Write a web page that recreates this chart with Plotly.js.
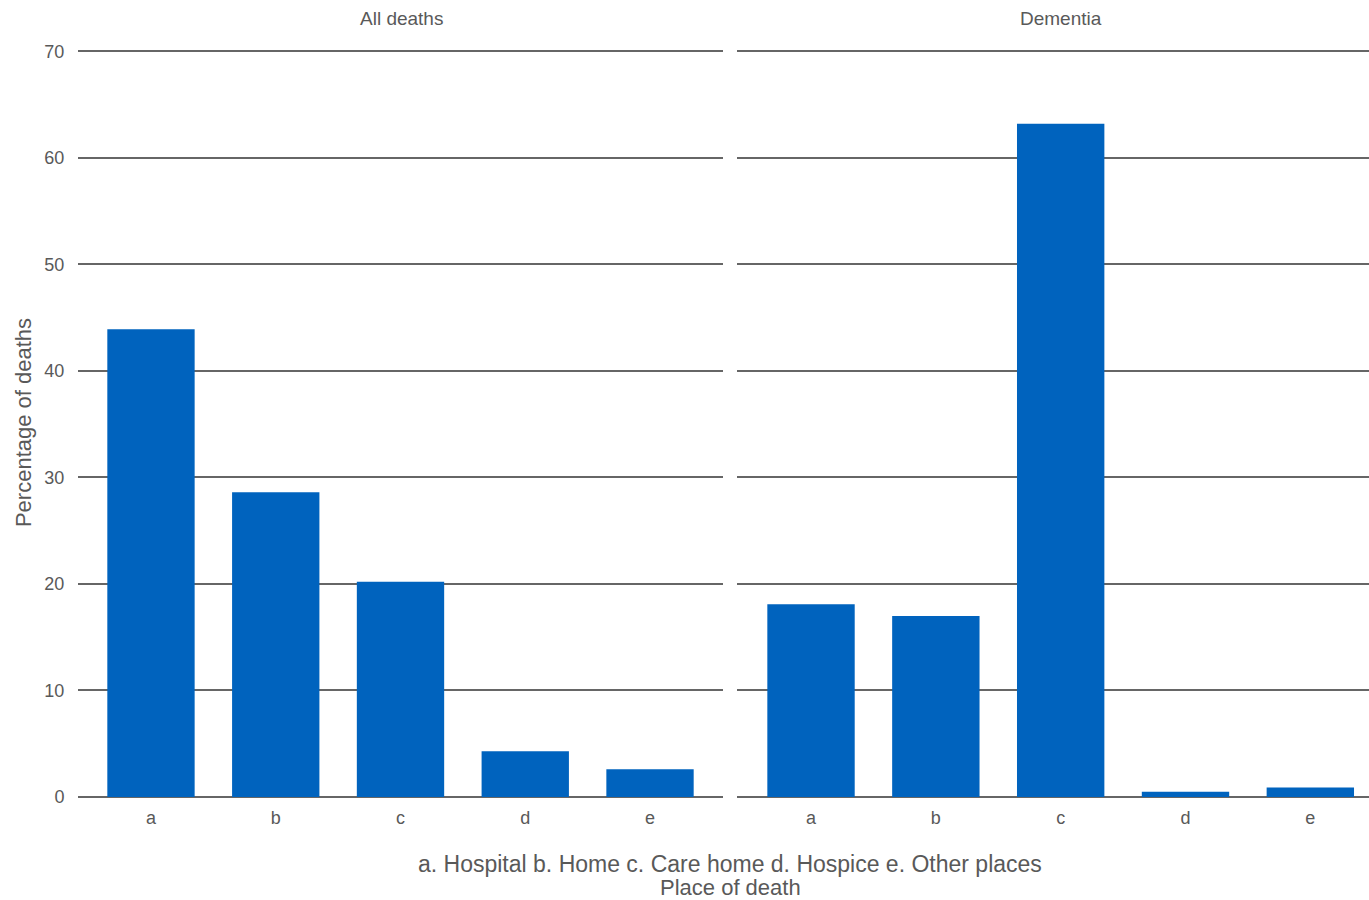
<!DOCTYPE html>
<html><head><meta charset="utf-8">
<script src="https://cdn.plot.ly/plotly-3.0.1.min.js"></script>
<style>body{margin:0;background:#fff}</style>
</head><body><div id="chart" style="width:1369px;height:900px"></div>
<script>
const categories = ['a','b','c','d','e'];
const allDeaths = [43.9, 28.6, 20.2, 4.3, 2.6];
const dementia = [18.1, 17.0, 63.2, 0.5, 0.9];
const panelTitles = ['All deaths', 'Dementia'];
const yTicks = [0,10,20,30,40,50,60,70];
const xTitleLines = ['a. Hospital b. Home c. Care home d. Hospice e. Other places', 'Place of death'];

const font = {family:'Liberation Sans, Arial, sans-serif', color:'#595959'};
const barColor = '#0063BE';
const traces = [
  {type:'bar', x:categories, y:allDeaths, xaxis:'x', yaxis:'y', marker:{color:barColor}, width:0.7},
  {type:'bar', x:categories, y:dementia, xaxis:'x2', yaxis:'y2', marker:{color:barColor}, width:0.7}
];
const yCommon = {range:[0,70.3], tickvals:yTicks, showgrid:true, gridcolor:'#666666', gridwidth:2, zeroline:true, zerolinecolor:'#666666', zerolinewidth:2, showline:false};
const xCommon = {type:'category', showgrid:false, zeroline:false, showline:false, ticks:'outside', ticklen:4, tickcolor:'rgba(0,0,0,0)', tickfont:{...font, size:18}};
const layout = {
  width:1369, height:900, margin:{l:78, r:0, t:48, b:103},
  paper_bgcolor:'#fff', plot_bgcolor:'#fff', showlegend:false,
  font:{...font, size:18},
  xaxis:{...xCommon, domain:[0, 645/1291], range:[-0.585, 4.585]},
  xaxis2:{...xCommon, domain:[659/1291, 1], range:[-0.593, 4.47]},
  yaxis:{...yCommon, anchor:'x', ticks:'outside', ticklen:9, tickcolor:'rgba(0,0,0,0)', tickfont:{...font, size:18},
         title:{text:'Percentage of deaths', font:{...font, size:22}, standoff:6}},
  yaxis2:{...yCommon, anchor:'x2', showticklabels:false},
  annotations:[
    {text:panelTitles[0], xref:'paper', yref:'paper', xanchor:'center', yanchor:'middle', x:(401-78)/1291, y:1, yshift:30, showarrow:false, font:{...font, size:19}},
    {text:panelTitles[1], xref:'paper', yref:'paper', xanchor:'center', yanchor:'middle', x:(1061-78)/1291, y:1, yshift:30, showarrow:false, font:{...font, size:19}},
    {text:xTitleLines[0], xref:'paper', yref:'paper', xanchor:'center', yanchor:'middle', x:(730-78)/1291, y:0, yshift:-67, showarrow:false, font:{...font, size:23}},
    {text:xTitleLines[1], xref:'paper', yref:'paper', xanchor:'center', yanchor:'middle', x:(730-78)/1291, y:0, yshift:-90, showarrow:false, font:{...font, size:22}}
  ]
};
Plotly.newPlot('chart', traces, layout, {displayModeBar:false, staticPlot:true});
</script></body></html>
